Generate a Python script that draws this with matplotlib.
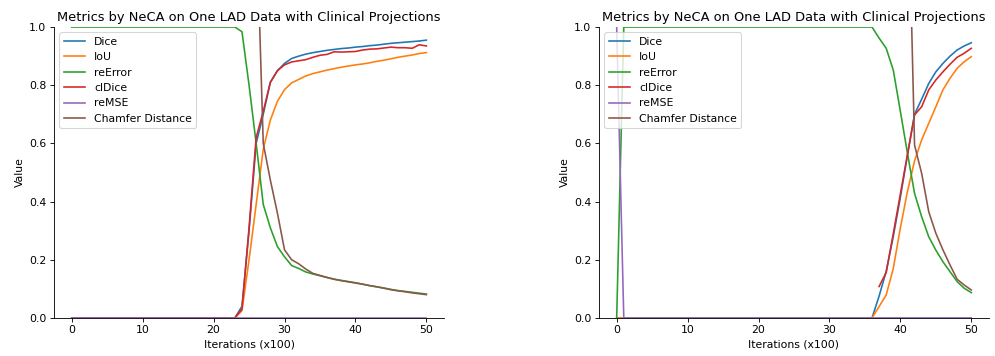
import numpy as np
import matplotlib
matplotlib.use("Agg")
import matplotlib.pyplot as plt

OUTPUT_FILE = "out.png"
DPI = 78

TITLE = "Metrics by NeCA on One LAD Data with Clinical Projections"
SERIES_NAMES = ["Dice", "IoU", "reError", "clDice", "reMSE", "Chamfer Distance"]
iterations = list(range(51))

# left panel
left_dice = [0.0] * 24 + [0.04, 0.30, 0.60, 0.70, 0.81, 0.85, 0.875, 0.892, 0.90, 0.907,
                          0.912, 0.916, 0.92, 0.923, 0.926, 0.928, 0.931, 0.933, 0.936,
                          0.938, 0.941, 0.944, 0.946, 0.948, 0.950, 0.952, 0.955]
left_iou = [0.0] * 24 + [0.025, 0.20, 0.39, 0.58, 0.68, 0.745, 0.785, 0.808, 0.82, 0.832,
                         0.84, 0.846, 0.852, 0.857, 0.862, 0.866, 0.870, 0.873, 0.877,
                         0.882, 0.886, 0.891, 0.896, 0.900, 0.904, 0.909, 0.912]
left_reerror = [1.0] * 24 + [0.984, 0.80, 0.60, 0.39, 0.31, 0.245, 0.21, 0.18, 0.17, 0.158,
                             0.151, 0.145, 0.139, 0.133, 0.129, 0.125, 0.121, 0.116, 0.111,
                             0.107, 0.103, 0.098, 0.094, 0.091, 0.088, 0.085, 0.082]
left_cldice = [0.0] * 24 + [0.03, 0.31, 0.62, 0.71, 0.81, 0.85, 0.87, 0.88, 0.884, 0.888,
                            0.896, 0.903, 0.906, 0.915, 0.914, 0.915, 0.916, 0.921, 0.924,
                            0.925, 0.928, 0.931, 0.929, 0.929, 0.927, 0.939, 0.935]
left_remse = [0.0] * 51
left_chamfer = [5.0] * 24 + [3.0, 2.0, 1.40, 0.60, 0.474, 0.36, 0.234, 0.20, 0.186, 0.168,
                             0.153, 0.146, 0.139, 0.133, 0.128, 0.124, 0.120, 0.116, 0.111,
                             0.107, 0.102, 0.097, 0.093, 0.090, 0.086, 0.083, 0.080]

# right panel
right_dice = [0.0] * 37 + [0.075, 0.16, 0.28, 0.415, 0.56, 0.70, 0.752, 0.806, 0.846,
                           0.875, 0.90, 0.921, 0.935, 0.946]
right_iou = [0.0] * 37 + [0.039, 0.079, 0.17, 0.31, 0.435, 0.54, 0.612, 0.669, 0.726,
                          0.784, 0.824, 0.858, 0.881, 0.898]
right_reerror = [0.0] + [1.0] * 36 + [0.962, 0.927, 0.852, 0.71, 0.566, 0.428, 0.348, 0.279,
                                      0.233, 0.193, 0.159, 0.125, 0.102, 0.087]
right_cldice = [np.nan] * 37 + [0.108, 0.156, 0.29, 0.426, 0.562, 0.698, 0.726, 0.784,
                                0.818, 0.846, 0.872, 0.896, 0.91, 0.927]
right_remse = [1.0] + [0.0] * 50
right_chamfer = [5.0] * 41 + [1.6, 0.594, 0.497, 0.365, 0.291, 0.234, 0.182, 0.133,
                              0.113, 0.096]

panels = [
    [left_dice, left_iou, left_reerror, left_cldice, left_remse, left_chamfer],
    [right_dice, right_iou, right_reerror, right_cldice, right_remse, right_chamfer],
]


def main():
    fig, axes = plt.subplots(1, 2, figsize=(995 / DPI, 356 / DPI), dpi=DPI)
    fig.subplots_adjust(left=0.0543, right=0.994, bottom=0.107, top=0.924, wspace=0.397)

    for ax, series in zip(axes, panels):
        for name, values in zip(SERIES_NAMES, series):
            ax.plot(iterations, values, label=name)
        ax.set_ylim(0, 1)
        ax.set_title(TITLE)
        ax.set_xlabel("Iterations (x100)")
        ax.set_ylabel("Value")
        ax.spines['top'].set_visible(False)
        ax.spines['right'].set_visible(False)
        ax.legend(loc='upper left')

    plt.savefig(OUTPUT_FILE, dpi=DPI)
    plt.close(fig)


if __name__ == "__main__":
    main()
